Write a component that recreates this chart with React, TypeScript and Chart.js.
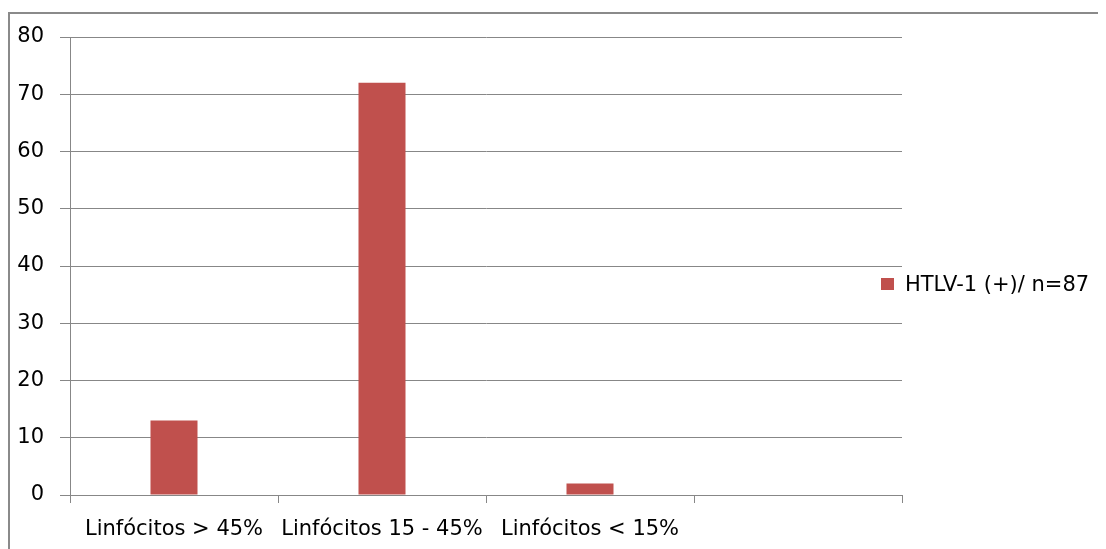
import React, { useEffect, useRef } from "react";
import { Chart, registerables } from "chart.js";

Chart.register(...registerables);

const categories: string[] = ["Linfócitos > 45%", "Linfócitos 15 - 45%", "Linfócitos < 15%", ""];
const seriesLabel = "HTLV-1 (+)/ n=87";
const seriesValues: (number | null)[] = [13, 72, 2, null];
const yMin = 0;
const yMax = 80;
const yStep = 10;

const BAR_COLOR = "#C0504D";
const GRID_COLOR = "#878787";
const FONT = "'DejaVu Sans', Verdana, sans-serif";
const FONT_SIZE = 21;

const legendPlugin = {
  id: "sideLegend",
  afterDraw(chart: any) {
    const ctx = chart.ctx;
    const ds = chart.data.datasets[0];
    ctx.save();
    ctx.fillStyle = ds.backgroundColor;
    ctx.fillRect(873, 270, 13, 12);
    ctx.fillStyle = "#000";
    ctx.font = `${FONT_SIZE}px ${FONT}`;
    ctx.textBaseline = "alphabetic";
    ctx.textAlign = "left";
    ctx.fillText(ds.label, 897, 283);
    ctx.restore();
  },
};

export default function App() {
  const ref = useRef<HTMLCanvasElement | null>(null);
  useEffect(() => {
    document.body.style.overflow = "hidden";
    const chart = new Chart(ref.current as HTMLCanvasElement, {
      type: "bar",
      data: {
        labels: categories,
        datasets: [
          {
            label: seriesLabel,
            data: seriesValues,
            backgroundColor: BAR_COLOR,
            borderWidth: 0,
            categoryPercentage: 1,
            barPercentage: 0.226,
          },
        ],
      },
      options: {
        responsive: false,
        animation: false,
        devicePixelRatio: 1,
        layout: { padding: { left: 0, top: 29, right: 204, bottom: 0 } },
        plugins: {
          legend: { display: false },
          tooltip: { enabled: false },
          title: { display: false },
        },
        scales: {
          x: {
            offset: true,
            grid: {
              offset: true,
              drawOnChartArea: false,
              drawTicks: true,
              tickLength: 8,
              color: GRID_COLOR,
              lineWidth: 1,
            },
            border: { display: true, color: GRID_COLOR, width: 1 },
            ticks: {
              autoSkip: false,
              maxRotation: 0,
              minRotation: 0,
              padding: 14,
              color: "#000",
              font: { family: FONT, size: FONT_SIZE },
            },
            afterFit(scale: any) {
              scale.height = 54;
            },
          },
          y: {
            min: yMin,
            max: yMax,
            grid: {
              drawOnChartArea: true,
              drawTicks: true,
              tickLength: 10,
              color: GRID_COLOR,
              lineWidth: 1,
            },
            border: { display: true, color: GRID_COLOR, width: 1 },
            ticks: {
              stepSize: yStep,
              padding: 16,
              color: "#000",
              font: { family: FONT, size: FONT_SIZE },
            },
            afterFit(scale: any) {
              scale.width = 62;
            },
          },
        },
      },
      plugins: [legendPlugin],
    });
    return () => chart.destroy();
  }, []);

  return (
    <div style={{ position: "relative", width: 1098, height: 541, overflow: "hidden" }}>
      <div
        style={{
          position: "absolute",
          left: 0,
          top: 4,
          width: 1200,
          height: 600,
          borderTop: "2px solid #8a8a8a",
          borderLeft: "2px solid #8a8a8a",
        }}
      />
      <canvas
        ref={ref}
        width={1098}
        height={541}
        style={{ position: "absolute", left: 0, top: 0, width: 1098, height: 541 }}
      />
    </div>
  );
}
